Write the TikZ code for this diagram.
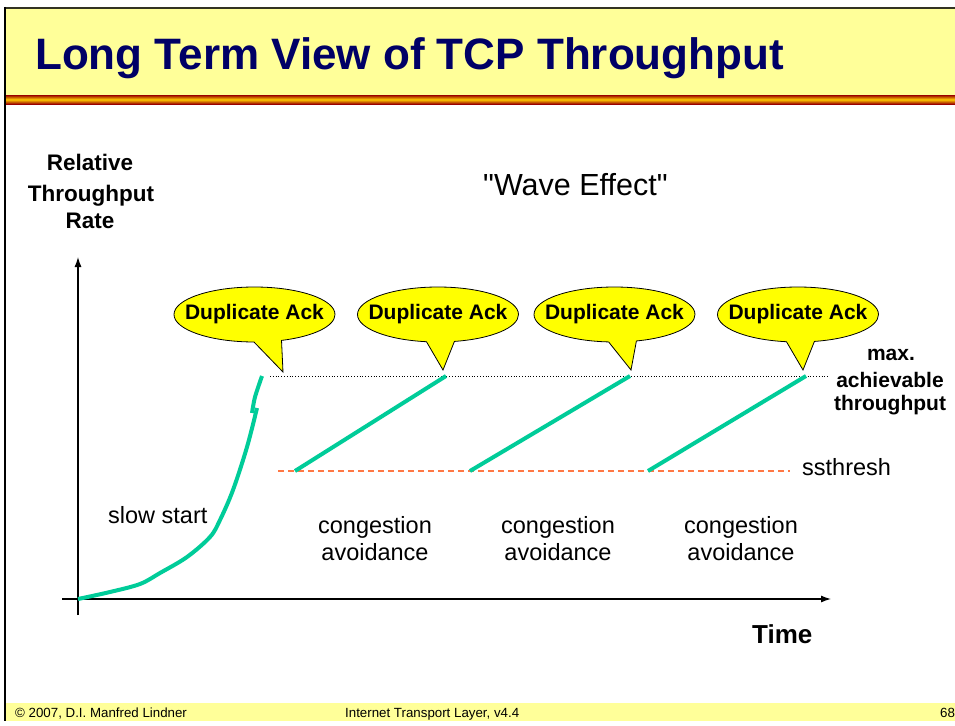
\documentclass[tikz,border=0pt]{standalone}
\usepackage{fontspec}
\setmainfont{Liberation Sans}
\newfontfamily\rawsans{Liberation Sans}
\usetikzlibrary{shapes.callouts,arrows.meta}
\definecolor{titlebg}{HTML}{FFFF99}
\definecolor{titlefg}{HTML}{000066}
\definecolor{tcpgreen}{RGB}{0,204,153}
\definecolor{ssorange}{HTML}{FF7744}
\definecolor{stripedark}{HTML}{990000}
\definecolor{stripemid}{HTML}{FFCC00}
\definecolor{bordercol}{HTML}{333322}
\definecolor{ackyellow}{HTML}{FFFF00}
\begin{document}
\begin{tikzpicture}[x=1pt,y=-1pt,
  dupack/.style={ellipse callout, draw=black, line width=0.8pt, fill=ackyellow,
     minimum width=161pt, minimum height=55pt, inner xsep=-25pt, inner ysep=0pt,
     callout pointer arc=20, font=\fontsize{21}{24}\selectfont\bfseries},
  tcpline/.style={tcpgreen, line width=4pt},
  axisline/.style={black, line width=1.2pt, -{Latex[length=10pt,width=7pt]}},
  plainlbl/.style={inner sep=0pt, font=\fontsize{23.5}{28}\selectfont},
  boldlbl/.style={inner sep=0pt, font=\fontsize{21}{25}\selectfont\bfseries},
  footlbl/.style={inner sep=0pt, font=\fontsize{13.3}{15}\selectfont}]
\useasboundingbox (0,0) rectangle (955,725);
\fill[white] (0,0) rectangle (955,725);
% title bar
\fill[titlebg] (5,8) rectangle (955,95);
\shade[top color=stripedark, bottom color=stripedark, middle color=stripemid] (5,95) rectangle (955,104);
\fill[titlebg] (5,703) rectangle (955,721);
\draw[bordercol, line width=2pt] (5,8) -- (955,8);
\draw[black, line width=2.5pt] (5,7) -- (5,721);
\node[anchor=base west, inner sep=0pt, text=titlefg, font=\fontsize{44}{50}\selectfont\bfseries] (title) at (35,70) {Long Term View of TCP Throughput};
% footer
\node[footlbl, anchor=base west] (f1) at (15,717) {© 2007, D.I. Manfred Lindner};
\node[footlbl, anchor=base west] (f2) at (345,717) {Internet Transport Layer, v4.4};
\node[footlbl, anchor=base west] (f3) at (940,717) {68};
% axes
\coordinate (ybot) at (78,615);
\coordinate (ytop) at (78,257);
\coordinate (xleft) at (62,599);
\coordinate (xright) at (831,599);
\draw[axisline] (ybot) -- (ytop);
\draw[axisline] (xleft) -- (xright);
% axis labels
\node[boldlbl, anchor=base, font=\fontsize{22.5}{25}\selectfont\bfseries] (yl1) at (90,170) {Relative};
\node[boldlbl, anchor=base, font=\fontsize{22.5}{25}\selectfont\bfseries] (yl2) at (91,201) {Throughput};
\node[boldlbl, anchor=base, font=\fontsize{22.5}{25}\selectfont\bfseries] (yl3) at (90,228) {Rate};
\node[boldlbl, anchor=base west, font=\fontsize{26}{30}\selectfont\bfseries] (time) at (752,643) {Time};
\node[plainlbl, anchor=base west, font=\rawsans\fontsize{30.5}{34}\selectfont] (wave) at (483,195) {"Wave Effect"};
% reference lines
\coordinate (maxl) at (270,376);
\coordinate (maxr) at (828,376);
\draw[black, line width=0.8pt, dotted] (maxl) -- (maxr);
\coordinate (ssl) at (278,471);
\coordinate (ssr) at (790,471);
\draw[ssorange, line width=1.2pt, dash pattern=on 6pt off 4pt] (ssl) -- (ssr);
\node[plainlbl, anchor=base west] (ss) at (802,475) {ssthresh};
\node[boldlbl, anchor=base] (mx1) at (891,360) {max.};
\node[boldlbl, anchor=base] (mx2) at (890,387) {achievable};
\node[boldlbl, anchor=base] (mx3) at (890,410) {throughput};
% slow start curve
\draw[tcpline] plot[smooth, tension=0.55] coordinates {(78,599) (110,592) (140,584) (160,573) (187,557) (210,537) (220,520) (233,490) (247,447) (257,408)};
\draw[tcpline] plot[smooth, tension=0.5] coordinates {(252,413) (255,397) (262,376)};
\node[plainlbl, anchor=base west] (slow) at (108,523) {slow start};
% congestion avoidance lines
\coordinate (c1a) at (295,471); \coordinate (c1b) at (446,376);
\coordinate (c2a) at (470,471); \coordinate (c2b) at (630,376);
\coordinate (c3a) at (648,471); \coordinate (c3b) at (806,376);
\draw[tcpline] (c1a) -- (c1b);
\draw[tcpline] (c2a) -- (c2b);
\draw[tcpline] (c3a) -- (c3b);
\foreach \n/\cx in {1/375, 2/558, 3/741} {
  \node[plainlbl, anchor=base] (cg\n) at (\cx,533) {congestion};
  \node[plainlbl, anchor=base] (av\n) at (\cx,560) {avoidance};
}
% duplicate ack callouts
\coordinate (t1) at (283,372);
\coordinate (t2) at (443,370);
\coordinate (t3) at (631,370);
\coordinate (t4) at (803,370);
\node[dupack, callout absolute pointer=(t1)] (d1) at (254.5,314.5) {Duplicate Ack};
\node[dupack, callout absolute pointer=(t2)] (d2) at (438,314.5) {Duplicate Ack};
\node[dupack, callout absolute pointer=(t3)] (d3) at (614.5,314.5) {Duplicate Ack};
\node[dupack, callout absolute pointer=(t4)] (d4) at (798,314.5) {Duplicate Ack};
\end{tikzpicture}
\end{document}
